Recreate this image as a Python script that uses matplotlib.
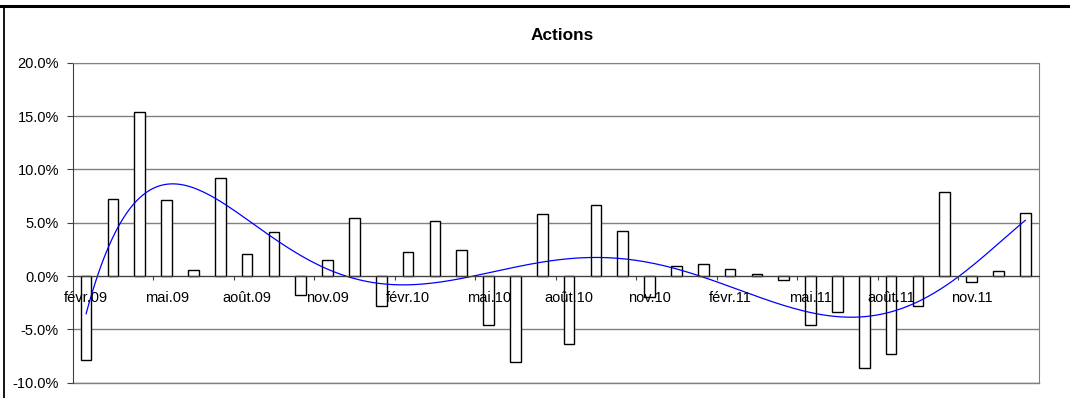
import numpy as np
import matplotlib
matplotlib.use("Agg")
import matplotlib.pyplot as plt
from matplotlib.lines import Line2D

plt.rcParams['font.family'] = ['Liberation Sans', 'DejaVu Sans']

# monthly returns, févr.09 .. janv.12 (%)
months = ["févr.09", "mars.09", "avr.09", "mai.09", "juin.09", "juil.09",
          "août.09", "sept.09", "oct.09", "nov.09", "déc.09", "janv.10",
          "févr.10", "mars.10", "avr.10", "mai.10", "juin.10", "juil.10",
          "août.10", "sept.10", "oct.10", "nov.10", "déc.10", "janv.11",
          "févr.11", "mars.11", "avr.11", "mai.11", "juin.11", "juil.11",
          "août.11", "sept.11", "oct.11", "nov.11", "déc.11", "janv.12"]
returns = [-7.9, 7.25, 15.4, 7.15, 0.6, 9.2,
           2.05, 4.1, -1.8, 1.55, 5.4, -2.8,
           2.3, 5.2, 2.4, -4.6, -8.1, 5.85,
           -6.4, 6.7, 4.2, -2.0, 0.9, 1.1,
           0.7, 0.15, -0.4, -4.6, -3.4, -8.6,
           -7.3, -2.8, 7.85, -0.6, 0.45, 5.9]
yticks = [-10, -5, 0, 5, 10, 15, 20]

x = np.arange(len(returns))
vals = np.array(returns) / 100

# Excel-style polynomial trendline (order 6) fitted on the bars
coef = np.polyfit(x + 1, vals, 6)
xs = np.linspace(0, len(x) - 1, 300)
trend = np.polyval(coef, xs + 1)

fig = plt.figure(figsize=(10.70, 3.98), dpi=100)
ax = fig.add_axes([72.7/1070, 15.3/398, 966/1070, 320/398])

ax.bar(x, vals, width=0.4, color='white', edgecolor='black', linewidth=1.0, zorder=3)
ax.plot(xs, trend, color='#0000FF', linewidth=0.9, zorder=4)

ax.set_xlim(-0.5, len(x) - 0.5)
ax.set_ylim(-0.10, 0.20)
ax.set_yticks([v / 100 for v in yticks])
ax.set_yticklabels(["%.1f%%" % v for v in yticks], fontsize=10.5)
ax.yaxis.grid(True, color='#808080', linewidth=1.0, zorder=0)
ax.tick_params(axis='y', direction='out', length=4.5, color='#404040', pad=5.4)

# x axis sits on the zero line, ticks every 3 months, labels drawn over bars
ax.spines['bottom'].set_position(('data', 0))
ax.spines['bottom'].set_color('#404040')
ax.spines['bottom'].set_zorder(5)
ax.xaxis.set_zorder(6)
ax.set_xticks(np.arange(0, len(x), 3) - 0.5)
ax.set_xticklabels([])
ax.tick_params(axis='x', which='major', direction='out', length=3, color='#404040')
ax.set_xticks(np.arange(0, len(x), 3), minor=True)
ax.set_xticklabels(months[::3], minor=True, fontsize=10.5)
ax.tick_params(axis='x', which='minor', length=0, pad=10.5)

for s in ['top', 'right']:
    ax.spines[s].set_color('#808080')
ax.spines['left'].set_color('#404040')
# bottom border of the plot area
ax.add_line(Line2D([0, 1], [0, 0], transform=ax.transAxes, color='#808080',
                   linewidth=1.0, clip_on=False))

fig.text(562/1070, 1 - 36/398, "Actions", ha='center', va='center',
         fontsize=12.4, fontweight='bold')

# outer frame of the chart object
fig.add_artist(Line2D([0, 1], [1 - 5.7/398] * 2, transform=fig.transFigure,
                      color='black', linewidth=2.2))
fig.add_artist(Line2D([4/1070] * 2, [0, 1 - 5.7/398], transform=fig.transFigure,
                      color='black', linewidth=1.3))

fig.savefig("out.png", dpi=100)
